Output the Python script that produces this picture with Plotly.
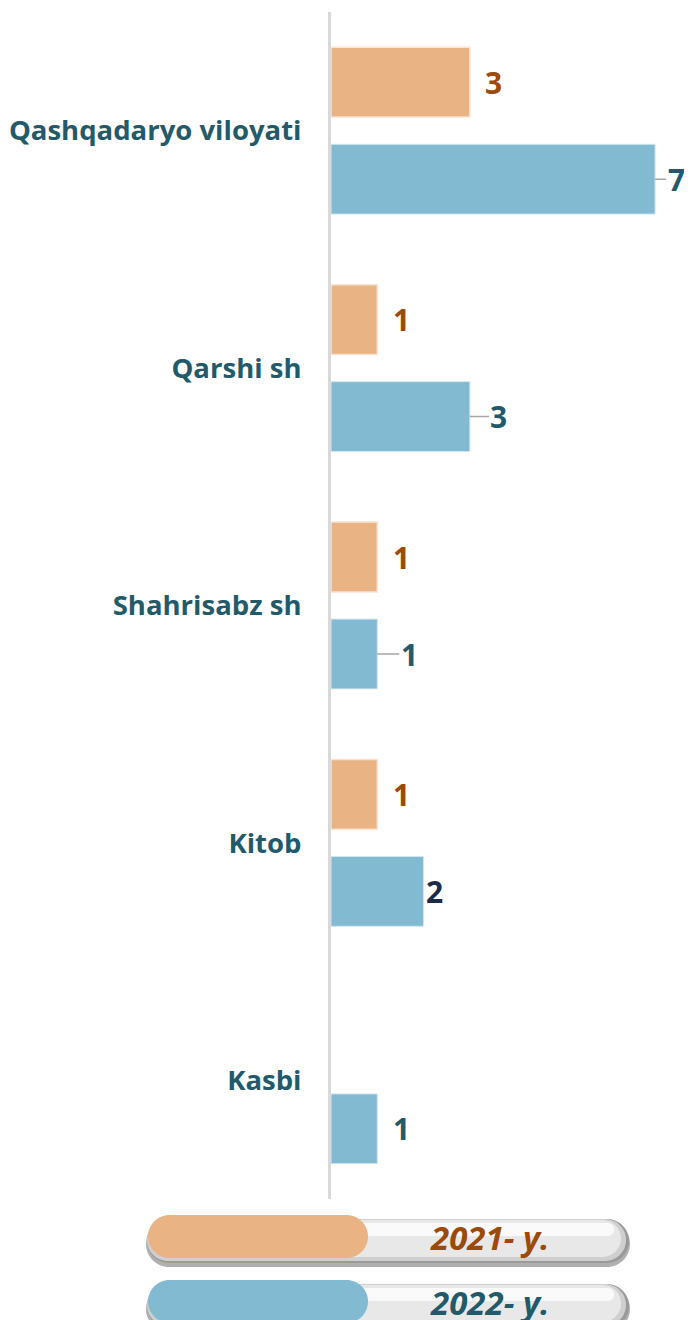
import plotly.graph_objects as go

# data
categories = ["Qashqadaryo viloyati", "Qarshi sh", "Shahrisabz sh", "Kitob", "Kasbi"]
values_2021 = [3, 1, 1, 1, None]
values_2022 = [7, 3, 1, 2, 1]
series_names = ["2021- y.", "2022- y."]

# the page body adds an 8px margin, so the figure is 8px smaller than the window
OFF = 8
W, H = 692 - OFF, 1320 - OFF
FONT = "Open Sans"
ORANGE = "#EAB384"
BLUE = "#82BAD1"
TXT_ORANGE = "#9C4A0A"
TXT_BLUE = "#235A6A"

# label tweaks: (series index, category) -> (x offset px, leader line, colour)
label_style = {
    (1, "Qashqadaryo viloyati"): (21, True, TXT_BLUE),
    (1, "Qarshi sh"): (29, True, TXT_BLUE),
    (1, "Shahrisabz sh"): (32, True, TXT_BLUE),
    (1, "Kitob"): (11, False, "#1B2A47"),
}


def px(x, y):
    # window pixel -> paper coordinate
    return (x - OFF) / W, 1 - (y - OFF) / H


def pill_path(x0, y0, x1, y1):
    r = (y1 - y0) / 2
    yc = (y0 + y1) / 2
    k = 0.5523 * r
    pts = [
        ("M", [(x0 + r, y0)]),
        ("L", [(x1 - r, y0)]),
        ("C", [(x1 - r + k, y0), (x1, yc - k), (x1, yc)]),
        ("C", [(x1, yc + k), (x1 - r + k, y1), (x1 - r, y1)]),
        ("L", [(x0 + r, y1)]),
        ("C", [(x0 + r - k, y1), (x0, yc + k), (x0, yc)]),
        ("C", [(x0, yc - k), (x0 + r - k, y0), (x0 + r, y0)]),
    ]
    out = []
    for cmd, ps in pts:
        coords = " ".join("{:.5f},{:.5f}".format(*px(a, b)) for a, b in ps)
        out.append(cmd + " " + coords)
    return " ".join(out) + " Z"


fig = go.Figure()
fig.add_trace(go.Bar(
    y=categories, x=values_2021, orientation="h", name=series_names[0],
    marker=dict(color=ORANGE, line=dict(color="#F8E4D3", width=1.5)),
    showlegend=False,
))
fig.add_trace(go.Bar(
    y=categories, x=values_2022, orientation="h", name=series_names[1],
    marker=dict(color=BLUE, line=dict(color="#D3E8F0", width=1)),
    showlegend=False,
))

annotations = []
for si, vals in enumerate([values_2021, values_2022]):
    for cat, v in zip(categories, vals):
        if v is None:
            continue
        off, leader, col = label_style.get((si, cat), (24, False, TXT_ORANGE if si == 0 else TXT_BLUE))
        a = dict(
            x=v, y=cat, xref="x", yref="y", text=str(v),
            font=dict(family=FONT, size=30, color=col, weight="bold"),
            yshift=48.5 if si == 0 else -48.5,
        )
        if leader:
            a.update(showarrow=True, arrowhead=0, arrowwidth=1.5, arrowcolor="#A6A6A6",
                     ax=off, ay=0, standoff=0)
        else:
            a.update(showarrow=False, xshift=off)
        annotations.append(a)

# legend: glossy capsules with coloured pills
shapes = []
for i, (name, col, tcol) in enumerate([(series_names[0], ORANGE, TXT_ORANGE),
                                        (series_names[1], BLUE, TXT_BLUE)]):
    dy = i * 65
    layers = [
        ((146, 1221, 630, 1267), "#8E8E8E", 0.7),
        ((147, 1219, 629, 1263), "#9A9A9A", 1),
        ((147, 1219, 626, 1261), "#CFCFCF", 1),
        ((149, 1220, 621, 1257), "#E8E8E8", 1),
        ((156, 1223, 614, 1236), "#FAFAFA", 1),
        ((148, 1215, 368, 1258), col, 1),
    ]
    for (x0, y0, x1, y1), fc, op in layers:
        shapes.append(dict(type="path", xref="paper", yref="paper",
                           path=pill_path(x0, y0 + dy, x1, y1 + dy),
                           fillcolor=fc, line=dict(width=0), opacity=op))
    lx, ly = px(489, 1237 + dy)
    annotations.append(dict(
        x=lx, y=ly, xref="paper", yref="paper", text=name, showarrow=False,
        xanchor="center", yanchor="middle",
        font=dict(family=FONT, size=33, color=tcol, weight="bold", style="italic"),
    ))

x0_axis, _ = px(331, 0)
_, y_top = px(0, 12)
_, y_bot = px(0, 1199)

fig.update_layout(
    width=W, height=H,
    margin=dict(l=0, r=0, t=0, b=0),
    paper_bgcolor="white", plot_bgcolor="white",
    barmode="group", bargap=0.183, bargroupgap=0.28,
    annotations=annotations, shapes=shapes,
    xaxis=dict(domain=[x0_axis, 1], range=[0, (692 - 331) / 46.3], visible=False, fixedrange=True),
    yaxis=dict(
        domain=[y_bot, y_top], autorange="reversed",
        showline=True, linecolor="#D9D9D9", linewidth=3,
        showgrid=False, zeroline=False, ticks="", automargin=False,
        ticklabelstandoff=21,
        tickfont=dict(family=FONT, size=27.5, color=TXT_BLUE, weight="bold"),
    ),
)

fig.write_html("out.html")
